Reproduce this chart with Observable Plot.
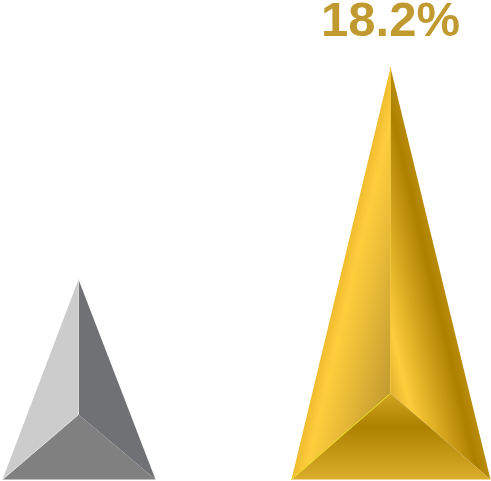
<!DOCTYPE html>
<html>
<head>
<meta charset="utf-8">
<script src="https://cdn.jsdelivr.net/npm/d3@7"></script>
<script src="https://cdn.jsdelivr.net/npm/@observablehq/plot@0.6"></script>
<style>
html,body{margin:0;padding:0;background:#fff;}
svg{display:block;}
</style>
</head>
<body>
<div id="chart"></div>
<script>
// Pyramid values (percent) and geometry
const names = ["grey", "gold"];
const peakValues = [8.83, 18.2];
const jointValues = [2.87, 3.8];
const baseLeft = [2, 291];
const baseRight = [155, 490];
const centers = [78, 390];
const labels = [null, "18.2%"];

const faceKinds = ["left", "right", "bottom"];
const faceFills = {
  grey: ["#cccccc", "#707175", "#808080"],
  gold: ["url(#goldLeft)", "url(#goldRight)", "url(#goldBottom)"]
};
const seamColors = {grey: "#e4e4e4", gold: "#ece01e"};
const upperSeamColors = {grey: "#dcdcdc", gold: "#eec53c"};

const faceRows = [];
names.forEach((name, i) => {
  const L = [baseLeft[i], 0], R = [baseRight[i], 0];
  const P = [centers[i], peakValues[i]], J = [centers[i], jointValues[i]];
  const shapes = [[L, P, J], [R, P, J], [L, J, R]];
  shapes.forEach((pts, k) => pts.forEach(p =>
    faceRows.push({id: name + faceKinds[k], x: p[0], y: p[1], fill: faceFills[name][k]})));
});

const seamRows = [];
names.forEach((name, i) => {
  const J = [centers[i], jointValues[i]];
  seamRows.push({id: name + "a", x: baseLeft[i], y: 0, c: seamColors[name]}, {id: name + "a", x: J[0], y: J[1], c: seamColors[name]});
  seamRows.push({id: name + "b", x: J[0], y: J[1], c: upperSeamColors[name]}, {id: name + "b", x: J[0], y: peakValues[i], c: upperSeamColors[name]});
});

const goldStops = {
  left: [[0, "#efbc2e"], [0.16, "#ffce3c"], [1, "#c29a30"]],
  right: [[0, "#e0b030"], [0.2, "#ffce3c"], [0.86, "#ad8000"], [1, "#bb8c0c"]],
  bottom: [[0, "#d2a420"], [0.39, "#ad8200"], [1, "#dcad2c"]]
};

function gradients(index, {x, y}) {
  const base = y(0), svgNS = "http://www.w3.org/2000/svg";
  const defs = document.createElementNS(svgNS, "defs");
  const add = (id, stops, x1, y1, x2, y2) => {
    const g = document.createElementNS(svgNS, "linearGradient");
    g.setAttribute("id", id);
    g.setAttribute("gradientUnits", "userSpaceOnUse");
    [["x1", x1], ["y1", y1], ["x2", x2], ["y2", y2]].forEach(([k, v]) => g.setAttribute(k, v));
    stops.forEach(([o, c]) => {
      const s = document.createElementNS(svgNS, "stop");
      s.setAttribute("offset", o);
      s.setAttribute("stop-color", c);
      g.appendChild(s);
    });
    defs.appendChild(g);
  };
  const lx = x(baseLeft[1]), rx = x(baseRight[1]);
  const jy = y(jointValues[1]);
  add("goldLeft", goldStops.left, lx, base, lx + 76 * 0.972, base + 76 * 0.233);
  add("goldRight", goldStops.right, rx - 77 * 0.972, base + 77 * 0.233, rx, base);
  add("goldBottom", goldStops.bottom, lx, jy, lx, base);
  return defs;
}

const chart = Plot.plot({
  width: 491,
  height: 481,
  margin: 0,
  style: {background: "#fff"},
  x: {domain: [0, 491], range: [0, 491], axis: null},
  y: {domain: [0, 479 / 22.64], range: [479, 0], axis: null},
  marks: [
    gradients,
    ...d3.groups(faceRows, d => d.id).map(([id, rows]) =>
      Plot.line(rows, {x: "x", y: "y", fill: rows[0].fill, stroke: "none", curve: "linear"})),
    ...d3.groups(seamRows, d => d.id).map(([id, rows]) =>
      Plot.line(rows, {x: "x", y: "y", stroke: rows[0].c, strokeWidth: 1, curve: "linear"})),
    Plot.text(names.map((n, i) => i).filter(i => labels[i]), {
      x: i => centers[i],
      y: i => peakValues[i],
      text: i => labels[i],
      dy: -47,
      fill: "#c09a30",
      fontSize: 49,
      fontWeight: 700,
      fontFamily: "Liberation Sans",
      textAnchor: "middle"
    })
  ]
});
document.getElementById("chart").appendChild(chart);
</script>
</body>
</html>
